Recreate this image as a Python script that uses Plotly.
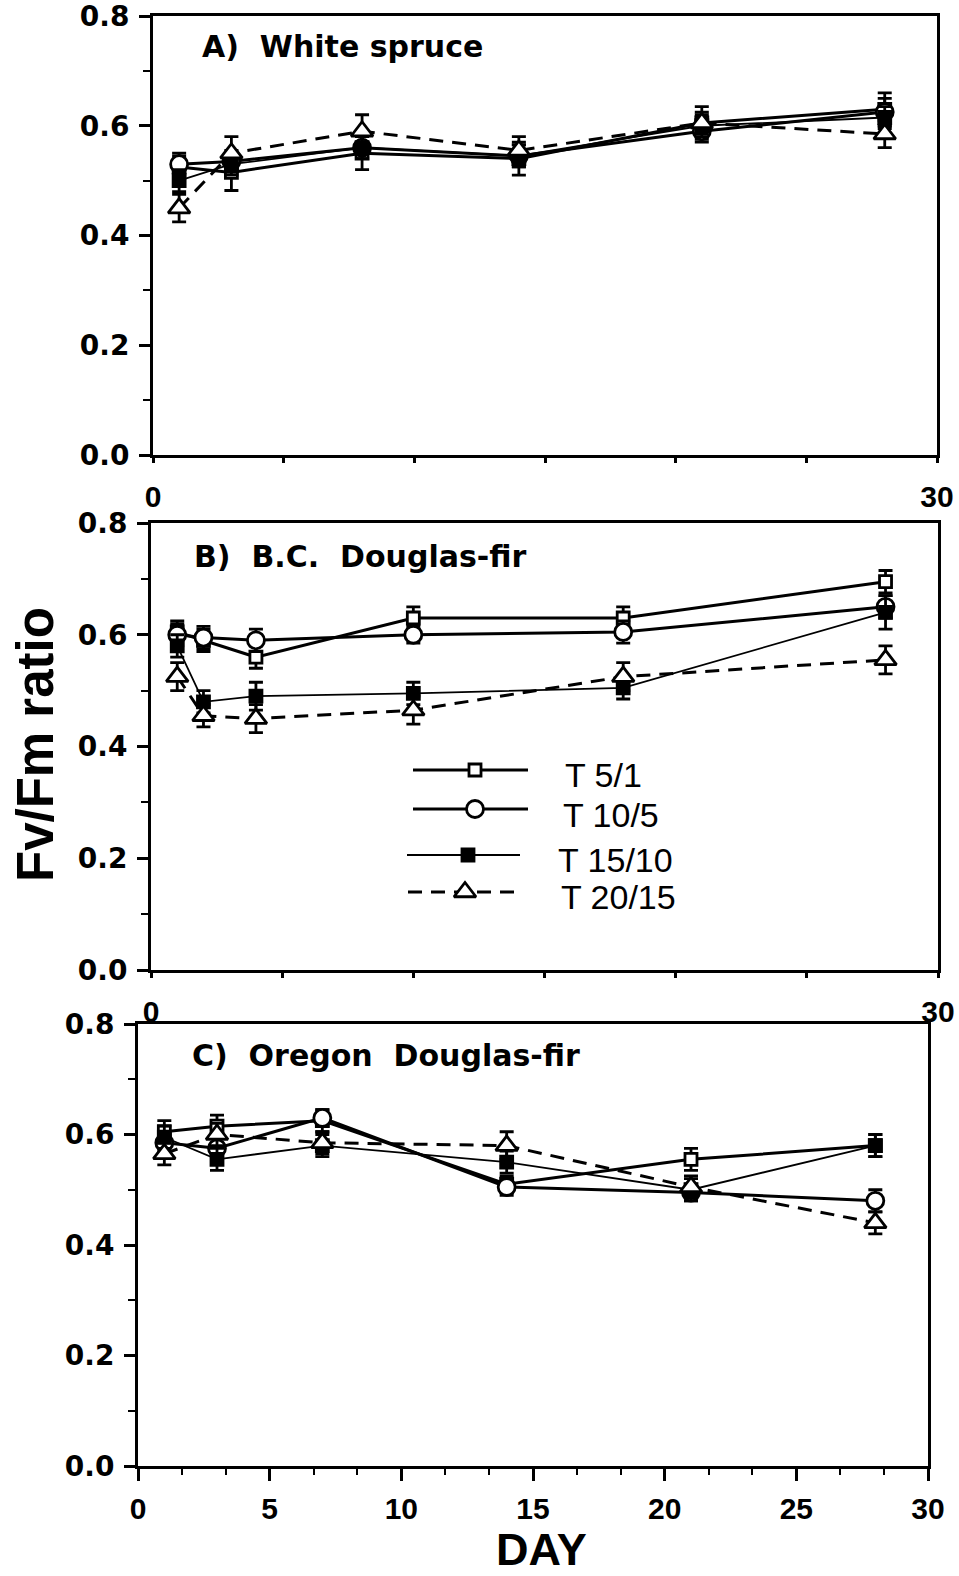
import plotly.graph_objects as go

W, H = 959, 1576

series_names = ["T 5/1", "T 10/5", "T 15/10", "T 20/15"]

# ---- Panel A: White spruce ----
days_a = [1, 3, 8, 14, 21, 28]
a_t5_1 = [0.525, 0.515, 0.550, 0.540, 0.605, 0.630]
a_t10_5 = [0.530, 0.535, 0.560, 0.545, 0.590, 0.625]
a_t15_10 = [0.500, 0.530, 0.560, 0.545, 0.600, 0.615]
a_t20_15 = [0.450, 0.550, 0.590, 0.555, 0.605, 0.585]
a_err_t5_1 = [0.020, 0.033, 0.030, 0.030, 0.030, 0.030]
a_err_t10_5 = [0.020, 0.020, 0.020, 0.020, 0.020, 0.025]
a_err_t15_10 = [0.020, 0.020, 0.020, 0.020, 0.020, 0.020]
a_err_t20_15 = [0.025, 0.030, 0.030, 0.025, 0.020, 0.025]

# ---- Panel B: B.C. Douglas-fir ----
days_b = [1, 2, 4, 10, 18, 28]
b_t5_1 = [0.605, 0.590, 0.560, 0.630, 0.630, 0.695]
b_t10_5 = [0.600, 0.595, 0.590, 0.600, 0.605, 0.650]
b_t15_10 = [0.580, 0.480, 0.490, 0.495, 0.505, 0.640]
b_t20_15 = [0.525, 0.455, 0.450, 0.465, 0.525, 0.555]
b_err_t5_1 = [0.020, 0.020, 0.020, 0.020, 0.020, 0.020]
b_err_t10_5 = [0.020, 0.020, 0.020, 0.015, 0.020, 0.020]
b_err_t15_10 = [0.020, 0.020, 0.025, 0.020, 0.020, 0.030]
b_err_t20_15 = [0.025, 0.020, 0.025, 0.025, 0.025, 0.025]

# ---- Panel C: Oregon Douglas-fir ----
days_c = [1, 3, 7, 14, 21, 28]
c_t5_1 = [0.605, 0.615, 0.625, 0.510, 0.555, 0.580]
c_t10_5 = [0.585, 0.575, 0.630, 0.505, 0.495, 0.480]
c_t15_10 = [0.595, 0.555, 0.580, 0.550, 0.500, 0.580]
c_t20_15 = [0.565, 0.600, 0.585, 0.580, 0.505, 0.440]
c_err_t5_1 = [0.020, 0.020, 0.020, 0.015, 0.020, 0.020]
c_err_t10_5 = [0.015, 0.020, 0.015, 0.015, 0.015, 0.020]
c_err_t15_10 = [0.020, 0.020, 0.020, 0.020, 0.020, 0.020]
c_err_t20_15 = [0.020, 0.020, 0.020, 0.025, 0.020, 0.020]

y_ticks = [0.0, 0.2, 0.4, 0.6, 0.8]
x_ticks = [0, 5, 10, 15, 20, 25, 30]
panel_titles = ["A)  White spruce", "B)  B.C.  Douglas-fir", "C)  Oregon  Douglas-fir"]

panels = [
    (days_a, [a_t5_1, a_t10_5, a_t15_10, a_t20_15],
     [a_err_t5_1, a_err_t10_5, a_err_t15_10, a_err_t20_15]),
    (days_b, [b_t5_1, b_t10_5, b_t15_10, b_t20_15],
     [b_err_t5_1, b_err_t10_5, b_err_t15_10, b_err_t20_15]),
    (days_c, [c_t5_1, c_t10_5, c_t15_10, c_t20_15],
     [c_err_t5_1, c_err_t10_5, c_err_t15_10, c_err_t20_15]),
]

# marker / line styling for each temperature regime
styles = {
    "T 5/1": dict(symbol="square", fill="white", size=12, dash="solid", lw=3),
    "T 10/5": dict(symbol="circle", fill="white", size=17, dash="solid", lw=3),
    "T 15/10": dict(symbol="square", fill="black", size=12, dash="solid", lw=1.8),
    "T 20/15": dict(symbol="triangle-up", fill="white", size=19, dash="14px,9px", lw=3),
}

# plot areas in pixels: (left, right, top, bottom)
boxes = [(153, 937, 16, 455), (151, 938, 523, 970), (138, 928, 1024, 1466)]

fig = go.Figure()


def px_dom_x(a, b):
    return [a / W, b / W]


def px_dom_y(top, bottom):
    return [(H - bottom) / H, (H - top) / H]


for i, (days, vals, errs) in enumerate(panels):
    ax = "" if i == 0 else str(i + 1)
    for name, v, e in zip(series_names, vals, errs):
        st = styles[name]
        fig.add_trace(go.Scatter(
            x=days, y=v, mode="lines+markers", name=name, showlegend=False,
            xaxis="x" + ax, yaxis="y" + ax,
            line=dict(color="black", width=st["lw"], dash=st["dash"]),
            marker=dict(symbol=st["symbol"], size=st["size"], color=st["fill"],
                        line=dict(color="black", width=2.8)),
            error_y=dict(type="data", array=e, visible=True, color="black",
                         thickness=2.8, width=7),
            cliponaxis=False,
        ))

ytick_font = dict(family="DejaVu Sans", size=28, color="black", weight="bold")
xtick_font = dict(family="Liberation Sans Narrow, Liberation Sans, Arial", size=30,
                  color="black", weight="bold")

layout = dict(
    template="none",
    width=W, height=H, autosize=False,
    margin=dict(l=0, r=0, t=0, b=0, pad=0),
    paper_bgcolor="white", plot_bgcolor="rgba(0,0,0,0)",
    showlegend=False,
)

for i, (l, r, t, b) in enumerate(boxes):
    ax = "" if i == 0 else str(i + 1)
    full = i == 2
    xa = dict(
        domain=px_dom_x(l, r), range=[0, 30], anchor="y" + ax, automargin=False,
        showline=True, linecolor="black", linewidth=3, mirror=True,
        showgrid=False, zeroline=False,
        tickmode="array", tickvals=x_ticks,
        ticktext=[str(v) if (full or v in (0, 30)) else "" for v in x_ticks],
        ticks="outside", ticklen=12 if full else 5, tickwidth=2.5, tickcolor="black",
        tickfont=xtick_font, ticklabelstandoff=2 if full else 8,
        ticklabeloverflow="allow",
    )
    if full:
        xa["minor"] = dict(dtick=5 / 3, tick0=0, ticks="outside", ticklen=6,
                           tickwidth=2, tickcolor="black", showgrid=False)
    ya = dict(
        domain=px_dom_y(t, b), range=[0, 0.8], anchor="x" + ax, automargin=False,
        showline=True, linecolor="black", linewidth=3, mirror=True,
        showgrid=False, zeroline=False,
        tickmode="array", tickvals=y_ticks, ticktext=[f"{v:.1f}" for v in y_ticks],
        ticks="outside", ticklen=11, tickwidth=2.5, tickcolor="black",
        tickfont=ytick_font, ticklabelstandoff=4, ticklabeloverflow="allow",
        minor=dict(dtick=0.1, tick0=0, ticks="outside", ticklen=7, tickwidth=2,
                   tickcolor="black", showgrid=False),
    )
    layout["xaxis" + ax] = xa
    layout["yaxis" + ax] = ya

# overlay axes in pixel units for the legend keys
layout["xaxis4"] = dict(domain=[0, 1], range=[0, W], visible=False, fixedrange=True,
                        anchor="y4", automargin=False)
layout["yaxis4"] = dict(domain=[0, 1], range=[H, 0], visible=False, fixedrange=True,
                        anchor="x4", automargin=False)

# legend rows: (line start, line end, line y, marker x, text x, text y)
legend_rows = [
    (413, 528, 770, 475, 563, 775),
    (413, 528, 809, 475, 561, 815),
    (407, 520, 855, 468, 556, 860),
    (408, 517, 892, 465, 559, 897),
]
annotations = []
for name, (x0, x1, ly, mx, tx, ty) in zip(series_names, legend_rows):
    st = styles[name]
    fig.add_trace(go.Scatter(
        x=[x0, x1], y=[ly, ly], mode="lines", xaxis="x4", yaxis="y4", showlegend=False,
        line=dict(color="black", width=st["lw"], dash=st["dash"]), hoverinfo="skip"))
    fig.add_trace(go.Scatter(
        x=[mx], y=[ly], mode="markers", xaxis="x4", yaxis="y4", showlegend=False,
        marker=dict(symbol=st["symbol"], size=st["size"], color=st["fill"],
                    line=dict(color="black", width=2.8)), hoverinfo="skip"))
    annotations.append(dict(
        x=tx / W, y=1 - ty / H, xref="paper", yref="paper", xanchor="left",
        yanchor="middle", text=name, showarrow=False,
        font=dict(family="Liberation Sans, Arial", size=34, color="black")))

title_pos = [(200, 47), (192, 556), (190, 1055)]
for txt, (tx, ty) in zip(panel_titles, title_pos):
    annotations.append(dict(
        x=tx / W, y=1 - ty / H, xref="paper", yref="paper", xanchor="left",
        yanchor="middle", text=txt, showarrow=False,
        font=dict(family="DejaVu Sans", size=30, color="black", weight="bold")))

annotations.append(dict(
    x=35 / W, y=1 - 745 / H, xref="paper", yref="paper", xanchor="center",
    yanchor="middle", text="Fv/Fm ratio", showarrow=False, textangle=-90,
    font=dict(family="Liberation Sans, Arial", size=51, color="black", weight="bold")))
annotations.append(dict(
    x=541 / W, y=0, xref="paper", yref="paper", xanchor="center",
    yanchor="bottom", yshift=0, text="DAY", showarrow=False, borderpad=0,
    font=dict(family="Liberation Sans Narrow, Liberation Sans, Arial", size=45,
              color="black", weight="bold")))

layout["annotations"] = annotations
fig.update_layout(**layout)

fig.write_html("out.html")
